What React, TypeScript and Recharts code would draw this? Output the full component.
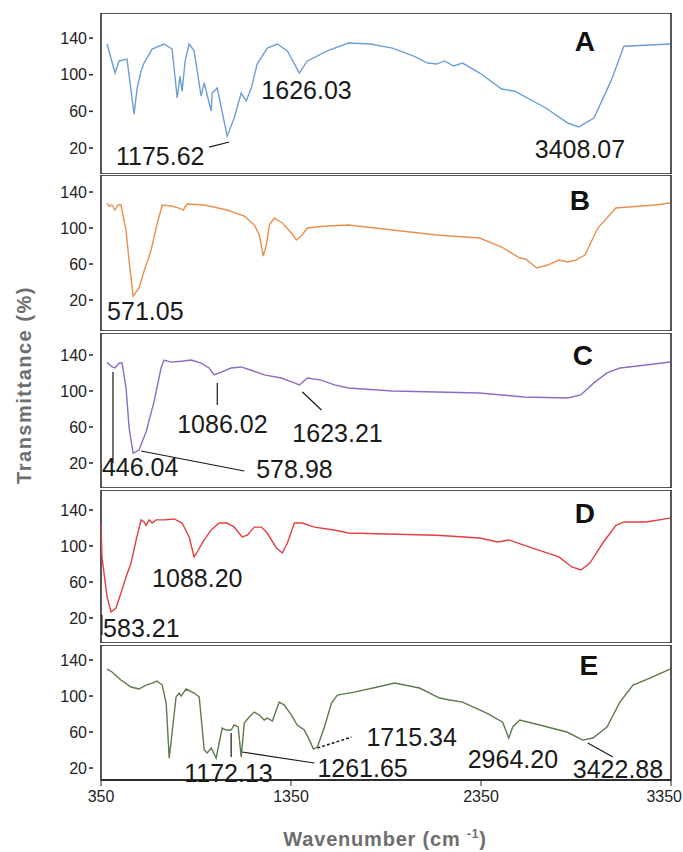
import React from 'react'
import { ComposedChart, Line, XAxis, YAxis, ReferenceArea, ReferenceDot, ReferenceLine } from 'recharts'

const FONT = '"Liberation Sans", Arial, sans-serif'

// spectra: wavenumber (axis units) / transmittance
const waveA = [382, 424, 445, 487, 524, 540, 561, 577, 619, 682, 724, 751, 766, 777, 793, 814, 840, 877, 893, 930, 935, 962, 1014, 1051, 1088, 1114, 1141, 1172, 1225, 1278, 1331, 1394, 1436, 1541, 1652, 1768, 1884, 2000, 2069, 2116, 2158, 2206, 2253, 2343, 2459, 2528, 2691, 2807, 2865, 2944, 3034, 3102, 3345]
const transA = [133.5, 101.8, 115, 117, 57, 85, 104, 113, 128, 133.5, 128, 74.6, 98.6, 82, 115, 133.5, 126, 76.7, 91, 60.4, 80, 85.5, 33, 52.8, 80, 71.3, 85.5, 111.6, 129, 133.5, 126, 101.8, 115, 126, 134.5, 133.5, 129, 120, 112.7, 111.6, 115, 109.5, 112.7, 101.8, 84.4, 82, 63.7, 47.3, 43, 52.8, 93, 131, 133.5]

const waveB = [382, 392, 408, 424, 440, 455, 482, 498, 519, 550, 577, 614, 640, 672, 719, 761, 782, 804, 893, 1014, 1104, 1157, 1183, 1204, 1220, 1236, 1262, 1304, 1352, 1378, 1404, 1436, 1541, 1652, 1884, 2116, 2343, 2459, 2554, 2585, 2643, 2701, 2760, 2807, 2849, 2897, 2965, 3060, 3266, 3345]
const transB = [127.8, 124.4, 125.6, 120, 125.6, 125.6, 96.7, 63.3, 24.4, 33.3, 52.2, 75.6, 100, 125.6, 124.4, 122.2, 120, 126.7, 125.6, 120, 113.3, 103.3, 92.2, 68.9, 81.1, 103.3, 111.1, 105.6, 94.4, 86.7, 91.1, 100, 102.2, 103.3, 97.8, 92.2, 88.9, 78.9, 66.7, 65.6, 55.6, 58.9, 64.4, 62.2, 64.4, 70, 100, 122.2, 125.6, 127.8]

const waveC = [382, 408, 424, 445, 461, 482, 498, 519, 550, 587, 629, 666, 682, 719, 772, 825, 877, 919, 946, 983, 1035, 1088, 1141, 1209, 1299, 1368, 1394, 1436, 1510, 1578, 1652, 1884, 2116, 2343, 2575, 2807, 2875, 2944, 3013, 3081, 3218, 3345]
const transC = [132, 126.7, 125.5, 131, 131, 103, 59, 31, 34.4, 54.4, 87.8, 125.5, 134.4, 132, 133, 134.4, 131, 125.5, 117.8, 121, 125.5, 126.7, 123, 117.8, 114.4, 109, 106.7, 114.4, 112, 106.7, 103.3, 100, 98.9, 97.8, 93.3, 92.2, 95.6, 109, 120, 125.5, 128.9, 132.2]

const waveD = [350, 355, 382, 403, 429, 455, 482, 508, 535, 561, 577, 587, 603, 619, 640, 682, 735, 777, 814, 840, 856, 893, 930, 972, 1014, 1051, 1093, 1120, 1157, 1194, 1225, 1273, 1304, 1331, 1368, 1410, 1473, 1578, 1652, 2116, 2343, 2438, 2496, 2575, 2760, 2828, 2876, 2923, 2991, 3060, 3102, 3218, 3345]
const transD = [126, 87.8, 43.3, 26.7, 31, 47.8, 65.6, 81, 106.7, 129, 126.7, 123, 129, 125.5, 129, 129, 130, 125.5, 110, 87.8, 93.3, 106.7, 117.8, 125.5, 125.5, 121, 110, 112, 121, 121, 114.4, 97.8, 92.2, 103.3, 125.5, 125.5, 121, 117.8, 114.4, 112, 108.9, 104.4, 106.7, 101, 87.8, 76.7, 73.3, 81, 103.3, 123, 126.7, 126.7, 131]

const waveE = [382, 408, 455, 508, 550, 587, 619, 645, 672, 693, 709, 724, 745, 761, 772, 798, 840, 867, 877, 893, 909, 930, 956, 972, 988, 1009, 1035, 1051, 1072, 1088, 1104, 1130, 1157, 1183, 1209, 1225, 1252, 1273, 1288, 1315, 1352, 1383, 1420, 1447, 1468, 1489, 1526, 1563, 1594, 1684, 1805, 1895, 2027, 2132, 2185, 2253, 2380, 2464, 2496, 2517, 2554, 2659, 2802, 2886, 2939, 3013, 3081, 3150, 3239, 3345]
const transE = [130, 126.7, 117.8, 110, 107.8, 112.2, 114.4, 116.7, 112.2, 92.2, 31, 59, 98.9, 103.3, 100, 107.8, 103.3, 98.9, 76.7, 40, 36.7, 42.2, 31, 47.8, 64.4, 62.2, 62.2, 67.8, 65.6, 32.2, 70, 76.7, 82.2, 78.9, 73.3, 75.5, 72.2, 84.4, 93.3, 90, 78.9, 67.8, 62.2, 51, 41, 43.3, 65.6, 92.2, 101, 104.4, 110, 114.4, 108.9, 97.8, 95.6, 93.3, 81, 71, 53.3, 65.6, 73.3, 67.8, 60, 51, 53.3, 65.6, 93.3, 112.2, 120, 130]

const yTicks = [20, 60, 100, 140]
const xTicks = [350, 1350, 2350, 3350]

// peak labels, anchored at (wavenumber, transmittance)
const peaksA = [
  { text: '1626.03', w: 1194, t: 73.5 },
  { text: '1175.62', w: 429, t: 1.5 },
  { text: '3408.07', w: 2633, t: 9.1 },
]
const peaksB = [{ text: '571.05', w: 382, t: -2.2 }]
const peaksC = [
  { text: '446.04', w: 355, t: 5.6 },
  { text: '578.98', w: 1167, t: 3.3 },
  { text: '1086.02', w: 751, t: 53.3 },
  { text: '1623.21', w: 1357, t: 43.3 },
]
const peaksD = [
  { text: '1088.20', w: 619, t: 54.4 },
  { text: '583.21', w: 361, t: -1.1 },
]
const peaksE = [
  { text: '1172.13', w: 788, t: 4.4 },
  { text: '1261.65', w: 1489, t: 10 },
  { text: '1715.34', w: 1747, t: 44.4 },
  { text: '2964.20', w: 2280, t: 20 },
  { text: '3422.88', w: 2833, t: 8.9 },
]

// leader lines: [w1, t1, w2, t2]
const leadersA = [[919, 21.1, 1025, 26.6]]
const leadersB: number[][] = []
const leadersC = [
  [413, 121.1, 413, 20],
  [561, 33.3, 1104, 11.1],
  [962, 108.9, 962, 84.4],
  [1410, 98.9, 1510, 78.9],
]
const leadersD = [[355, 23.3, 355, 1.1]]
const leadersE = [
  [1035, 58.9, 1035, 32.2],
  [1093, 37.8, 1473, 25.6],
  [2912, 47.8, 3044, 32.2],
]
const dashedE = [[1489, 42.2, 1668, 54.4]]

const panels = [
  { name: 'A', color: '#6b9fd6', wave: waveA, trans: transA, top: 13, height: 161, domain: [-8.3, 167.3], peaks: peaksA, leaders: leadersA, dashed: [], letter: { w: 2897, t: 125.8 } },
  { name: 'B', color: '#e8904f', wave: waveB, trans: transB, top: 175, height: 156, domain: [-14.4, 158.9], peaks: peaksB, leaders: leadersB, dashed: [], letter: { w: 2870, t: 120 } },
  { name: 'C', color: '#8d6cc4', wave: waveC, trans: transC, top: 333, height: 155, domain: [-7.8, 164.4], peaks: peaksC, leaders: leadersC, dashed: [], letter: { w: 2886, t: 128.9 } },
  { name: 'D', color: '#e0403f', wave: waveD, trans: transD, top: 490, height: 153, domain: [-7.8, 162.2], peaks: peaksD, leaders: leadersD, dashed: [], letter: { w: 2897, t: 125.5 } },
  { name: 'E', color: '#5c7a4c', wave: waveE, trans: transE, top: 645, height: 135, domain: [6.7, 156.7], peaks: peaksE, leaders: leadersE, dashed: dashedE, letter: { w: 2918, t: 123.3 } },
]

const YTick = (p: any) => (
  <g>
    <text x={p.x - 14} y={p.y} dy="0.35em" textAnchor="end" fontSize={16} fill="#222" fontFamily={FONT}>
      {p.payload.value}
    </text>
    <line x1={p.x - 12} x2={p.x - 8} y1={p.y} y2={p.y} stroke="#222" strokeWidth={1.5} />
  </g>
)

// last tick label would run past the page edge, so pin it to the right
const XTick = (p: any) => {
  const last = p.payload.value === xTicks[xTicks.length - 1]
  return (
    <text x={last ? 682 : p.x} y={p.y} dy="0.71em" textAnchor={last ? 'end' : 'middle'} fontSize={16} fill="#222" fontFamily={FONT}>
      {p.payload.value}
    </text>
  )
}

function Panel({ cfg, showX }: { cfg: any; showX: boolean }) {
  const data = cfg.wave.map((w: number, i: number) => ({ w, t: cfg.trans[i] }))
  return (
    <div style={{ position: 'absolute', left: 0, top: cfg.top }}>
      <ComposedChart width={683} height={cfg.height + (showX ? 32 : 0)} data={data} margin={{ top: 0, right: 12, bottom: 0, left: 41 }}>
        <XAxis
          dataKey="w"
          type="number"
          domain={[350, 3350]}
          allowDataOverflow
          ticks={xTicks}
          interval={0}
          hide={!showX}
          height={32}
          axisLine={{ stroke: '#222', strokeWidth: 1.5 }}
          tickLine={{ stroke: '#222' }}
          tickSize={6}
          tickMargin={5}
          tick={<XTick />}
        />
        <YAxis
          type="number"
          domain={cfg.domain}
          allowDataOverflow
          ticks={yTicks}
          interval={0}
          width={60}
          axisLine={false}
          tickLine={false}
          tickSize={0}
          tickMargin={0}
          tick={<YTick />}
        />
        <ReferenceArea x1={350} x2={3350} y1={cfg.domain[0]} y2={cfg.domain[1]} fill="none" fillOpacity={0} stroke="#1f1f1f" strokeWidth={1.5} ifOverflow="visible" />
        <Line type="linear" dataKey="t" stroke={cfg.color} strokeWidth={1.4} dot={false} isAnimationActive={false} />
        {cfg.leaders.map((l: number[], i: number) => (
          <ReferenceLine key={'l' + i} segment={[{ x: l[0], y: l[1] }, { x: l[2], y: l[3] }]} stroke="#1a1a1a" strokeWidth={1.2} ifOverflow="visible" />
        ))}
        {cfg.dashed.map((l: number[], i: number) => (
          <ReferenceLine key={'d' + i} segment={[{ x: l[0], y: l[1] }, { x: l[2], y: l[3] }]} stroke="#1a1a1a" strokeWidth={1.5} strokeDasharray="3 2" ifOverflow="visible" />
        ))}
        {cfg.peaks.map((pk: any, i: number) => (
          <ReferenceDot
            key={'p' + i}
            x={pk.w}
            y={pk.t}
            r={0}
            ifOverflow="visible"
            shape={(s: any) => (
              <text x={s.cx} y={s.cy} fontSize={25} fill="#1a1a1a" fontFamily={FONT}>
                {pk.text}
              </text>
            )}
          />
        ))}
        <ReferenceDot
          x={cfg.letter.w}
          y={cfg.letter.t}
          r={0}
          ifOverflow="visible"
          shape={(s: any) => (
            <text x={s.cx} y={s.cy} textAnchor="middle" fontSize={28} fontWeight="bold" fill="#111" fontFamily={FONT}>
              {cfg.name}
            </text>
          )}
        />
      </ComposedChart>
    </div>
  )
}

export default function App() {
  return (
    <div style={{ position: 'absolute', left: 0, top: 0, width: 683, height: 852, background: '#fff', fontFamily: FONT }}>
      {panels.map((p, i) => (
        <Panel key={p.name} cfg={p} showX={i === panels.length - 1} />
      ))}
      <svg width={683} height={852} style={{ position: 'absolute', left: 0, top: 0, pointerEvents: 'none' }}>
        <text x={31} y={385} transform="rotate(-90 31 385)" textAnchor="middle" fontSize={20} fontWeight="bold" fill="#6e6e6e" letterSpacing={1.5} fontFamily={FONT}>
          Transmittance (%)
        </text>
        <text x={385} y={846} textAnchor="middle" fontSize={20} fontWeight="bold" fill="#6e6e6e" letterSpacing={0.8} fontFamily={FONT}>
          Wavenumber (cm <tspan fontSize={12} dy={-8}>-1</tspan>
          <tspan dy={8}>)</tspan>
        </text>
      </svg>
    </div>
  )
}
